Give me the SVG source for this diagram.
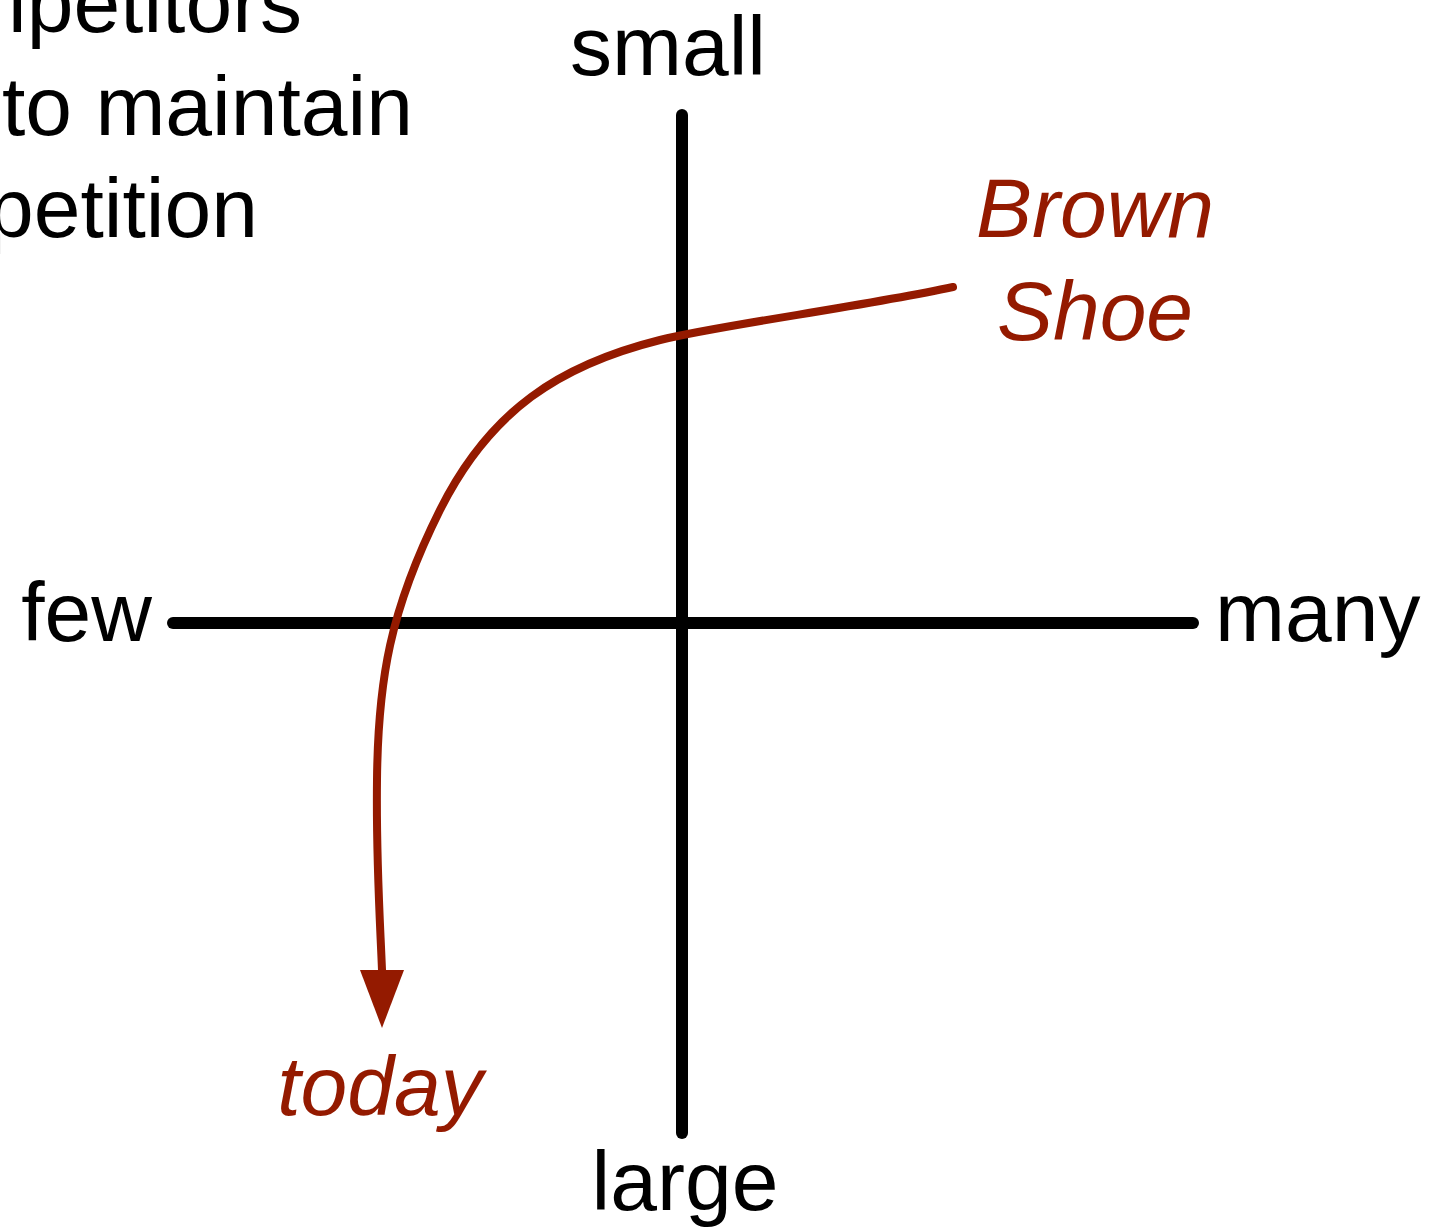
<svg xmlns="http://www.w3.org/2000/svg" width="1430" height="1228" viewBox="0 0 1430 1228">
<style>
.t{font-family:"Liberation Sans",Arial,sans-serif;font-size:84px;fill:#000}
.r{font-family:"Liberation Sans",Arial,sans-serif;font-size:84px;font-style:italic;fill:#941a00}
.ax{stroke:#000;stroke-width:12;stroke-linecap:round;fill:none}
.cv{fill:none;stroke:#941a00;stroke-width:8;stroke-linecap:round}
.hd{fill:#941a00}
</style>
<rect width="1430" height="1228" fill="#fff"/>
<g id="caption">
<text class="t" x="8" y="32">ipetitors</text>
<text class="t" x="2" y="135">to maintain</text>
<text class="t" x="-13" y="237">petition</text>
</g>
<g id="connectors">
<line class="ax" x1="682" y1="115" x2="682" y2="1133"/>
<line class="ax" x1="173" y1="623" x2="1193" y2="623"/>
<path class="cv" d="M953,287 C860,307 720,325 660,340 C560,365 490,410 440,510 C390,610 378,680 377,780 C376,860 380,920 382,970"/>
<path class="hd" d="M360,970 L404,970 L382,1028 Z"/>
</g>
<g id="small"><text class="t" x="668" y="75" text-anchor="middle">small</text></g>
<g id="large"><text class="t" x="685" y="1210" text-anchor="middle">large</text></g>
<g id="few"><text class="t" x="152" y="641" text-anchor="end">few</text></g>
<g id="many"><text class="t" x="1215" y="641">many</text></g>
<g id="brown-shoe">
<text class="r" x="1095" y="237" text-anchor="middle">Brown</text>
<text class="r" x="1095" y="340" text-anchor="middle">Shoe</text>
</g>
<g id="today"><text class="r" x="380" y="1115" text-anchor="middle">today</text></g>
</svg>
